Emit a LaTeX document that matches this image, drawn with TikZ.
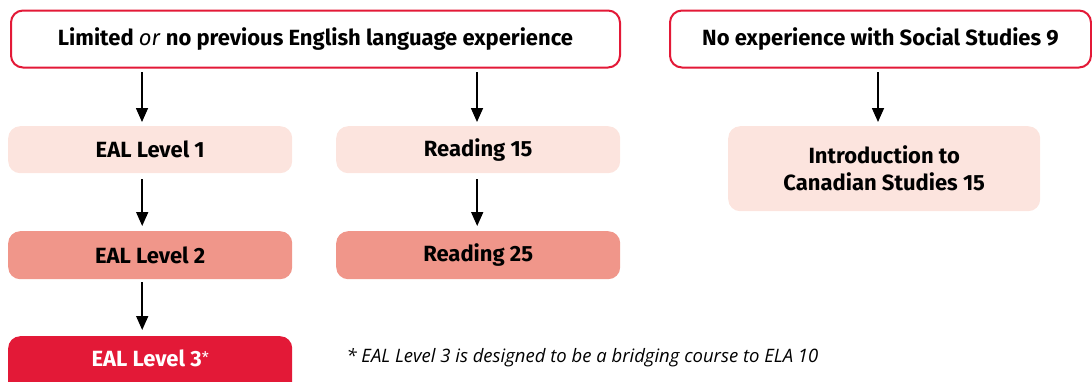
\documentclass[tikz,border=0pt]{standalone}
\usepackage{fontspec}
\setmainfont{Fira Sans}
\newfontfamily\notefont{Open Sans}
\usetikzlibrary{arrows.meta}
\definecolor{redc}{HTML}{E31937}
\definecolor{pinkl}{HTML}{FCE4DE}
\definecolor{pinkm}{HTML}{F0968A}
\tikzset{
  boxfont/.style={font=\fontsize{22}{26}\selectfont\bfseries},
  topbox/.style={draw=redc, line width=2pt, fill=white, rounded corners=12pt, boxfont},
  lvlone/.style={fill=pinkl, rounded corners=12pt, boxfont},
  lvltwo/.style={fill=pinkm, rounded corners=12pt, boxfont},
  lvlthree/.style={fill=redc, rounded corners=12pt, text=white, boxfont},
  flow/.style={-{Triangle[width=12pt,length=14pt]}, line width=1.6pt, black},
}
\begin{document}
\begin{tikzpicture}[x=1pt,y=-1pt]
\useasboundingbox (0,0) rectangle (1092,381);
\begin{scope}
\clip (0,0) rectangle (1092,381);
\node[topbox, minimum width=609pt, minimum height=57pt, anchor=north west] (t1) at (10,9.5) {Limited \textmd{\itshape or} no previous English language experience};
\node[topbox, minimum width=421pt, minimum height=57pt, anchor=north west] (t2) at (669,9.5) {No experience with Social Studies 9};
\node[lvlone, minimum width=284pt, minimum height=47pt, anchor=north west] (e1) at (8,126) {EAL Level 1};
\node[lvlone, minimum width=284pt, minimum height=47pt, anchor=north west] (r15) at (336,126) {Reading 15};
\node[lvlone, minimum width=312pt, minimum height=85pt, anchor=north west, align=center] (ic) at (728,126) {Introduction to\\[1pt]Canadian Studies 15};
\node[lvltwo, minimum width=284pt, minimum height=48pt, anchor=north west] (e2) at (8,231) {EAL Level 2};
\node[lvltwo, minimum width=284pt, minimum height=48pt, anchor=north west] (r25) at (336,231) {Reading 25};
\node[lvlthree, minimum width=284pt, minimum height=60pt, anchor=north west] (e3) at (8,336) {\raisebox{8pt}[\height][\depth]{EAL Level 3\textmd{\raisebox{3pt}{\fontsize{16}{18}\selectfont*}}}};
\end{scope}
\node[anchor=west, font=\notefont\itshape\fontsize{18.5}{22}\selectfont] (note) at (343,358) {* EAL Level 3 is designed to be a bridging course to ELA 10};
\coordinate (a1s) at (142,72); \coordinate (a1e) at (142,122);
\coordinate (a2s) at (477,72); \coordinate (a2e) at (477,122);
\coordinate (a3s) at (878,72); \coordinate (a3e) at (878,122);
\draw[flow] (a1s) -- (a1e);
\draw[flow] (a2s) -- (a2e);
\draw[flow] (a3s) -- (a3e);
\draw[flow] ([xshift=-8pt,yshift=-6pt]e1.south) -- ([xshift=-8pt,yshift=5pt]e2.north);
\draw[flow] ([xshift=-1pt,yshift=-6pt]r15.south) -- ([xshift=-1pt,yshift=5pt]r25.north);
\draw[flow] ([xshift=-8pt,yshift=-3pt]e2.south) -- ([xshift=-8pt,yshift=6pt]e3.north);
\end{tikzpicture}
\end{document}
